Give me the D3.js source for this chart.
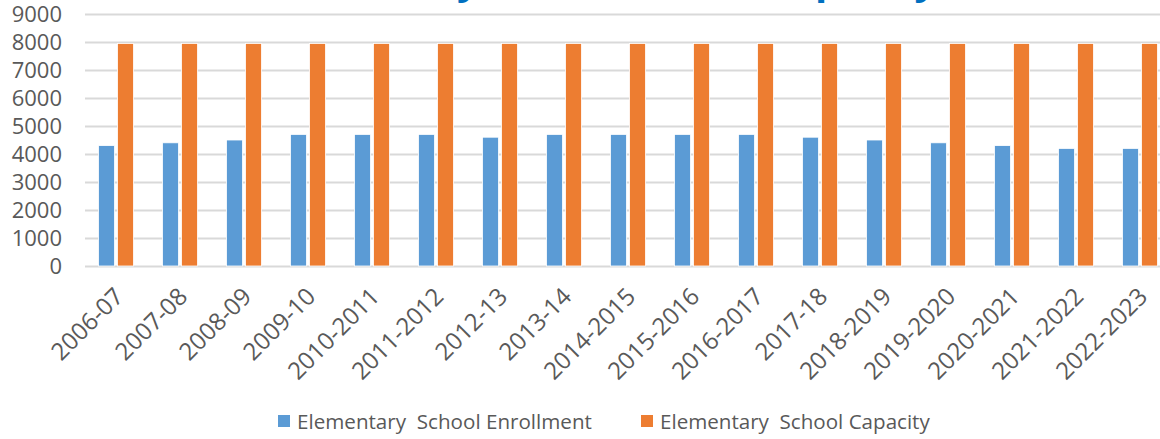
<!DOCTYPE html>
<html>
<head>
<meta charset="utf-8">
<script src="https://cdn.jsdelivr.net/npm/d3@7"></script>
<style>
  html, body { margin: 0; padding: 0; background: #fff; }
  svg { display: block; }
</style>
</head>
<body>
<svg id="chart" width="1160" height="439"></svg>
<script>
const categories = ["2006-07","2007-08","2008-09","2009-10","2010-2011","2011-2012","2012-13","2013-14","2014-2015","2015-2016","2016-2017","2017-18","2018-2019","2019-2020","2020-2021","2021-2022","2022-2023"];
const enrollment = [4300,4400,4500,4700,4700,4700,4600,4700,4700,4700,4700,4600,4500,4400,4300,4200,4200];
const capacity   = [7950,7950,7950,7950,7950,7950,7950,7950,7950,7950,7950,7950,7950,7950,7950,7950,7950];
const seriesNames = ["Elementary  School Enrollment","Elementary  School Capacity"];
const yTicks = [0,1000,2000,3000,4000,5000,6000,7000,8000,9000];
const titleParts = ["Elementary", " Enrollment and Ca", "pacity"];

const colors = ["#5B9BD5", "#ED7D31"];
const svg = d3.select("#chart");
const font = "'Open Sans', sans-serif";
const textColor = "#595959";

const x0 = d3.scaleBand().domain(categories).range([85, 85 + 64 * categories.length]).padding(0);
const x1 = d3.scaleBand().domain([0, 1]).range([13.5, 48.5]).paddingInner(0.158);
const y = d3.scaleLinear().domain([0, 9000]).range([266, 14]);

// title (clipped at the top edge, as in the reference)
const tt = svg.append("text")
  .attr("y", -6.5)
  .attr("font-family", font).attr("font-weight", "bold")
  .attr("font-size", 40)
  .attr("fill", "#0070C0");
const t1 = tt.append("tspan").attr("x", 0).text(titleParts[0]);
const t2 = tt.append("tspan").text(titleParts[1]);
const t3 = tt.append("tspan").text(titleParts[2]);
try {
  const node = tt.node();
  const py = node.getStartPositionOfChar(9).x;
  const x1start = 457 - py;
  t1.attr("x", x1start);
  const t1len = t1.node().getComputedTextLength();
  const t2start = x1start + t1len;
  t2.attr("x", t2start).attr("textLength", 815 - t2start - 6).attr("lengthAdjust", "spacingAndGlyphs");
} catch (e) { t1.attr("x", 240); }
t3.attr("x", 815);

// gridlines + y labels
const yAxis = d3.axisLeft(y).tickValues(yTicks).tickSize(-(1160 - 85)).tickFormat(d3.format("d")).tickPadding(23);
const gy = svg.append("g").attr("transform", "translate(85,0)").call(yAxis);
gy.select(".domain").remove();
gy.selectAll(".tick line").attr("stroke", "#D9D9D9").attr("stroke-width", 2);
gy.selectAll(".tick text").attr("font-family", font).attr("font-size", 22).attr("fill", textColor);

// bars
const data = categories.map((c, i) => ({ c, vals: [enrollment[i], capacity[i]] }));
const groups = svg.append("g").selectAll("g").data(data).join("g")
  .attr("transform", d => `translate(${x0(d.c)},0)`);
groups.selectAll("rect").data(d => d.vals.map((v, k) => ({ v, k }))).join("rect")
  .attr("x", d => x1(d.k))
  .attr("width", x1.bandwidth())
  .attr("y", d => y(d.v))
  .attr("height", d => y(0) - y(d.v))
  .attr("fill", d => colors[d.k])
  .attr("stroke", "#fff").attr("stroke-width", 0.8);

// x axis labels
const xAxis = d3.axisBottom(x0).tickSize(0).tickPadding(0);
const gx = svg.append("g").attr("transform", `translate(0,${y(0)})`).call(xAxis);
gx.select(".domain").remove();
gx.selectAll(".tick text")
  .attr("font-family", font).attr("font-size", 24).attr("fill", textColor)
  .attr("text-anchor", "end")
  .attr("dy", null).attr("y", null)
  .attr("transform", "translate(8,32) rotate(-45)");

// legend
const legendItems = [
  { x: 278, tx: 297, name: seriesNames[0], color: colors[0], w: 295 },
  { x: 641, tx: 660, name: seriesNames[1], color: colors[1], w: 270 }
];
const lg = svg.append("g");
legendItems.forEach(it => {
  lg.append("rect").attr("x", it.x).attr("y", 415).attr("width", 12).attr("height", 12).attr("fill", it.color);
  const t = lg.append("text").attr("x", it.tx).attr("y", 429)
    .attr("font-family", font).attr("font-size", 21).attr("fill", textColor)
    .style("white-space", "pre")
    .text(it.name);
  const len = t.node().getComputedTextLength();
  if (len > 0) t.attr("font-size", 21 * it.w / len);
});
</script>
</body>
</html>
